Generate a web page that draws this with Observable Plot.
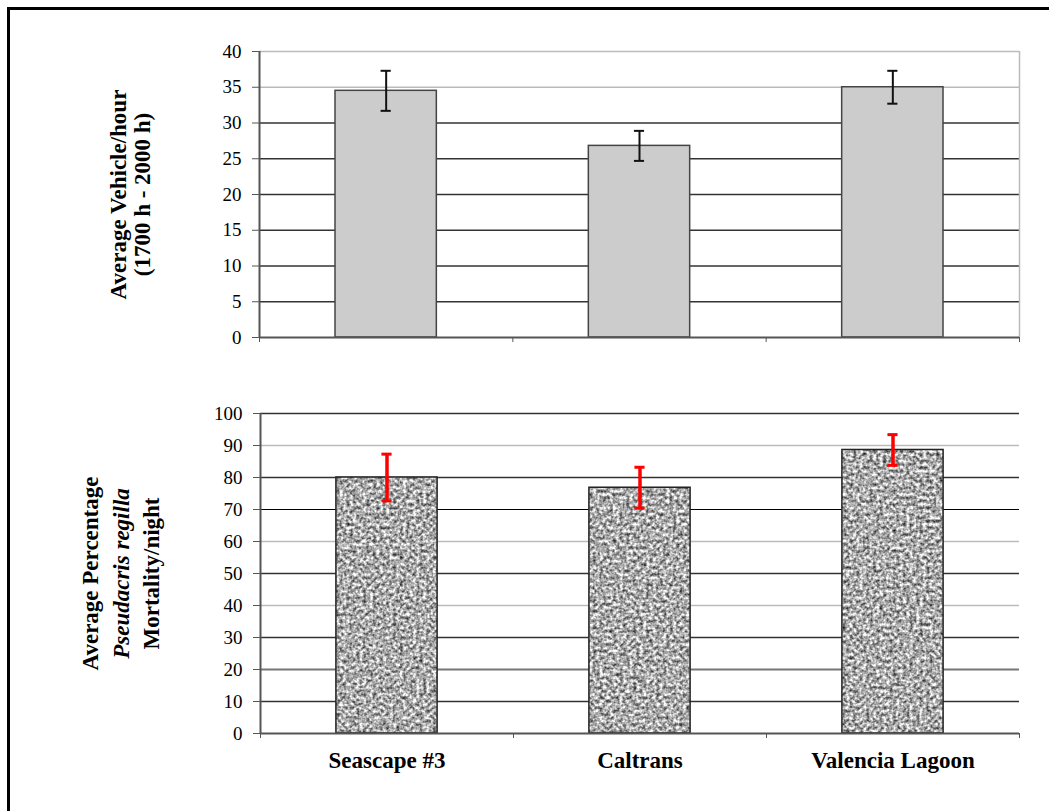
<!DOCTYPE html>
<html><head><meta charset="utf-8">
<script src="https://cdn.jsdelivr.net/npm/d3@7"></script>
<script src="https://cdn.jsdelivr.net/npm/@observablehq/plot@0.6"></script>
<style>
body{margin:0;background:#fff;}
#fig{position:relative;width:1049px;height:811px;overflow:hidden;background:#fff;}
#frame{position:absolute;left:7px;top:7px;width:1100px;height:900px;border-left:3px solid #000;border-top:3px solid #000;box-sizing:border-box;}
#top{position:absolute;left:0;top:0;}
#bottom{position:absolute;left:0;top:380px;}
</style></head><body>
<div id="fig"><div id="frame"></div><div id="top"></div><div id="bottom"></div></div>
<script>
// ---- data ----
const sites = ["Seascape #3", "Caltrans", "Valencia Lagoon"];
const vehicleMean = [34.5, 26.8, 35.0];
const vehicleErr = [2.8, 2.1, 2.3];
const mortalityMean = [80.0, 76.8, 88.6];
const mortalityErr = [7.3, 6.4, 4.8];
const vehicleTicks = [0, 5, 10, 15, 20, 25, 30, 35, 40];
const mortalityTicks = [0, 10, 20, 30, 40, 50, 60, 70, 80, 90, 100];
const vehicleTitle = ["Average Vehicle/hour", "(1700 h - 2000 h)"];
const mortalityTitle = ["Average Percentage", "Pseudacris regilla", "Mortality/night"];

const FONT = "Liberation Serif, Times New Roman, serif";
const TICKFS = 19, TITLEFS = 23;
const topRows = sites.map((s, i) => ({i, site: s, mean: vehicleMean[i], err: vehicleErr[i]}));
const botRows = sites.map((s, i) => ({i, site: s, mean: mortalityMean[i], err: mortalityErr[i]}));

function errMarks(rows, color, w, capW) {
  return [
    Plot.ruleX(rows, {x: d => d.i + 0.5, y1: d => d.mean - d.err, y2: d => d.mean + d.err, stroke: color, strokeWidth: w}),
    Plot.ruleY(rows, {x1: d => d.i + 0.48, x2: d => d.i + 0.52, y: d => d.mean + d.err, stroke: color, strokeWidth: capW}),
    Plot.ruleY(rows, {x1: d => d.i + 0.48, x2: d => d.i + 0.52, y: d => d.mean - d.err, stroke: color, strokeWidth: capW})
  ];
}
function titleMark(t, dx, italic) {
  return Plot.text([t], {text: d => d, frameAnchor: "left", textAnchor: "middle", rotate: -90, dx,
    fontWeight: "bold", fontStyle: italic ? "italic" : "normal", fontSize: TITLEFS, fontFamily: FONT, fill: "#000"});
}

const topPlot = Plot.plot({
  width: 1049, height: 380,
  marginLeft: 259, marginRight: 30, marginTop: 51, marginBottom: 43,
  x: {domain: [0, 3], axis: null},
  y: {domain: [0, 40], axis: null},
  style: {fontFamily: FONT, background: "transparent", color: "#000"},
  marks: [
    Plot.ruleY(vehicleTicks.filter(v => v >= 35), {stroke: "#bbb", strokeWidth: 1.5}),
    Plot.ruleY(vehicleTicks.filter(v => v > 0 && v < 35), {stroke: "#333", strokeWidth: 1.5}),
    Plot.ruleX([3], {y1: 0, y2: 40, stroke: "#bbb", strokeWidth: 1.5}),
    Plot.rectY(topRows, {x1: d => d.i + 0.3, x2: d => d.i + 0.7, y1: 0, y2: "mean", fill: "#cccccc", stroke: "#444", strokeWidth: 1.5}),
    ...errMarks(topRows, "#111", 2, 2),
    Plot.ruleY([0], {stroke: "#555", strokeWidth: 2}),
    Plot.ruleX([0], {stroke: "#555", strokeWidth: 2}),
    Plot.axisY({ticks: vehicleTicks, tickSize: 7, tickPadding: 11, tickFormat: d => d, label: null, stroke: "#555", fill: "#000", fontSize: TICKFS, fontFamily: FONT}),
    Plot.axisX({ticks: [0, 1, 2, 3], tickSize: 5, tickFormat: () => "", label: null, stroke: "#555"}),
    titleMark(vehicleTitle[0], -141, false),
    titleMark(vehicleTitle[1], -117, false)
  ]
});
document.getElementById("top").appendChild(topPlot);

const botPlot = Plot.plot({
  width: 1049, height: 431,
  marginLeft: 260, marginRight: 30, marginTop: 33, marginBottom: 78,
  x: {domain: [0, 3], axis: null},
  y: {domain: [0, 100], axis: null},
  style: {fontFamily: FONT, background: "transparent", color: "#000"},
  marks: [
    Plot.ruleY([20], {stroke: "#777", strokeWidth: 2}),
    Plot.ruleY([40, 60, 90], {stroke: "#bbb", strokeWidth: 1.5}),
    Plot.ruleY([10, 30, 50, 80, 100], {stroke: "#333", strokeWidth: 1.5}),
    Plot.ruleY([70], {stroke: "#000", strokeWidth: 1.2}),
    Plot.rectY(botRows, {x1: d => d.i + 0.3, x2: d => d.i + 0.7, y1: 0, y2: "mean", fill: "url(#speckle)", stroke: "#222", strokeWidth: 1.5}),
    ...errMarks(botRows, "#ff0000", 3.5, 3),
    Plot.ruleY([0], {stroke: "#555", strokeWidth: 2}),
    Plot.ruleX([0], {stroke: "#555", strokeWidth: 2}),
    Plot.axisY({ticks: mortalityTicks, tickSize: 7, tickPadding: 11, tickFormat: d => d, label: null, stroke: "#555", fill: "#000", fontSize: TICKFS, fontFamily: FONT}),
    Plot.axisX({ticks: [0, 1, 2, 3], tickSize: 5, tickFormat: () => "", label: null, stroke: "#555"}),
    Plot.axisX({ticks: [0.5, 1.5, 2.5], tickSize: 0, tickPadding: 18, tickFormat: v => sites[Math.floor(v)], label: null, fontSize: 23, fontWeight: "bold", fontFamily: FONT, fill: "#000"}),
    titleMark(mortalityTitle[0], -170, false),
    titleMark(mortalityTitle[1], -139, true),
    titleMark(mortalityTitle[2], -109, false)
  ]
});
const ns = "http://www.w3.org/2000/svg";
const defs = document.createElementNS(ns, "defs");
defs.innerHTML = `
<filter id="grain" x="0" y="0" width="100%" height="100%" color-interpolation-filters="sRGB">
  <feTurbulence type="fractalNoise" baseFrequency="0.3" numOctaves="2" seed="11"/>
  <feColorMatrix type="matrix" values="1.4 0 0 0 -0.03  1.4 0 0 0 -0.03  1.4 0 0 0 -0.03  0 0 0 0 1"/>
</filter>
<pattern id="speckle" patternUnits="userSpaceOnUse" width="400" height="400">
  <rect width="400" height="400" fill="#aaa" filter="url(#grain)"/>
</pattern>`;
botPlot.insertBefore(defs, botPlot.firstChild);
document.getElementById("bottom").appendChild(botPlot);
</script>
</body></html>
